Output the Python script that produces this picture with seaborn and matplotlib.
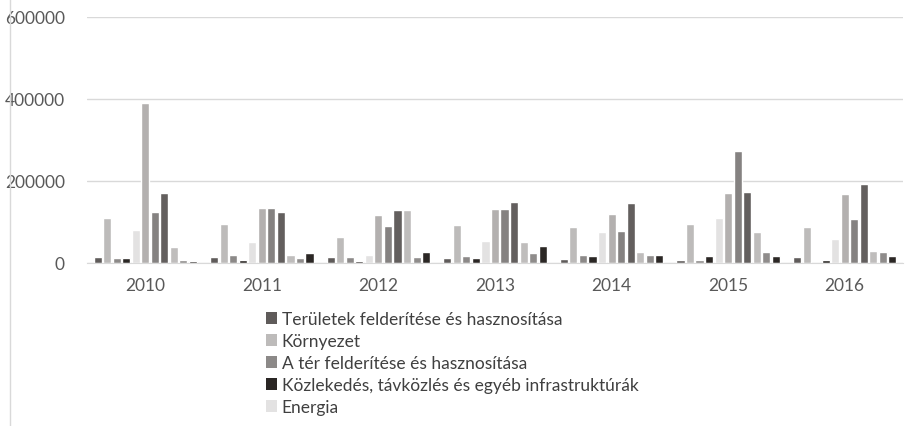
import matplotlib
matplotlib.use("Agg")
import matplotlib.pyplot as plt
import seaborn as sns
import pandas as pd
from matplotlib.patches import Patch
from matplotlib.lines import Line2D

years = ["2010", "2011", "2012", "2013", "2014", "2015", "2016"]
series = [
    "Területek felderítése és hasznosítása",
    "Környezet",
    "A tér felderítése és hasznosítása",
    "Közlekedés, távközlés és egyéb infrastruktúrák",
    "Energia",
    "Ipari termelés és technológia",
    "Egészség",
    "Mezőgazdaság",
    "Oktatás",
    "Kultúra, szabadidő, vallás és tömegtájékoztatás",
    "Politikai és társadalmi rendszerek",
]
values = {
    series[0]: [15000, 15000, 15000, 12000, 10000, 7000, 15000],
    series[1]: [109000, 95000, 63000, 93000, 88000, 95000, 88000],
    series[2]: [12000, 19000, 14000, 16000, 19000, 7000, 0],
    series[3]: [12000, 7000, 5000, 12000, 16000, 17000, 7000],
    series[4]: [80000, 51000, 19000, 54000, 76000, 109000, 59000],
    series[5]: [390000, 134000, 116000, 132000, 119000, 171000, 168000],
    series[6]: [124000, 134000, 90000, 132000, 79000, 272000, 107000],
    series[7]: [171000, 124000, 129000, 149000, 146000, 174000, 193000],
    series[8]: [39000, 19000, 129000, 51000, 26000, 76000, 29000],
    series[9]: [7000, 12000, 14000, 24000, 20000, 26000, 27000],
    series[10]: [5000, 24000, 26000, 41000, 20000, 17000, 17000],
}
colors = ["#5f5b5a", "#bdbbba", "#8c8988", "#2a2624", "#e3e2e2", "#b3b0af",
          "#858281", "#635f5e", "#bfbdbc", "#8f8c8b", "#2b2725"]
yticks = [0, 200000, 400000, 600000]

rows = []
for s in series:
    for y, v in zip(years, values[s]):
        rows.append({"year": y, "series": s, "value": v})
df = pd.DataFrame(rows)

sns.set_style("white")
plt.rcParams["font.family"] = ["Lato", "DejaVu Sans"]

fig = plt.figure(figsize=(9.18, 4.27), dpi=100)
ax = fig.add_axes([87 / 918, 1 - 264 / 427, 816 / 918, 246 / 427])

pal = dict(zip(series, colors))
sns.barplot(data=df, x="year", y="value", hue="series", hue_order=series,
            order=years, palette=pal, width=0.9, gap=0.15, legend=False,
            ax=ax, errorbar=None, saturation=1)

ax.set_xlim(-0.5, 6.5)
ax.set_ylim(0, 600000)
ax.set_yticks(yticks)
ax.set_yticklabels([str(t) for t in yticks])
ax.set_xlabel("")
ax.set_ylabel("")
ax.grid(axis="y", color="#d9d9d9", linewidth=1)
ax.set_axisbelow(True)
for side in ["top", "right", "left"]:
    ax.spines[side].set_visible(False)
ax.spines["bottom"].set_color("#d9d9d9")
ax.tick_params(axis="both", length=0, labelsize=12.5, labelcolor="#595959")
ax.tick_params(axis="y", pad=16)
ax.tick_params(axis="x", pad=10)

handles = [Patch(facecolor=c, edgecolor="none") for c in colors[:5]]
fig.legend(handles, series[:5], loc="upper left",
           bbox_to_anchor=(266 / 918, 1 - 312 / 427), frameon=False,
           handlelength=0.65, handleheight=0.65, handletextpad=0.25,
           labelspacing=0.35, fontsize=12.5, labelcolor="#404040",
           borderaxespad=0, borderpad=0)

fig.add_artist(Line2D([10 / 918, 10 / 918], [0, 1], color="#d9d9d9",
                      linewidth=1, transform=fig.transFigure))

fig.savefig("out.png", dpi=100)
